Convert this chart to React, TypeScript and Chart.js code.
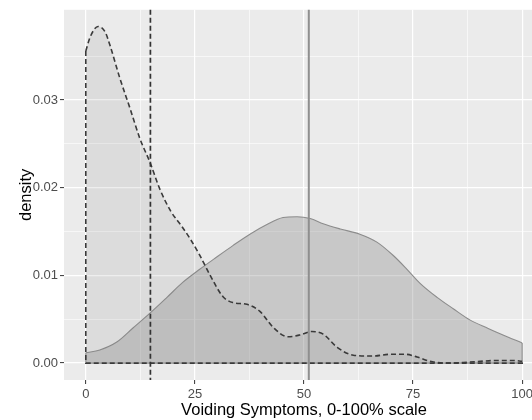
import React, { useEffect, useRef } from "react";
import { Chart, registerables } from "chart.js";

Chart.register(...registerables);

// Dashed group density (x, y)
const lowX = [0, 1, 2.8, 4.4, 5.5, 7.8, 10.1, 12.4, 14.7, 17, 19.5, 22, 24, 26, 28.4, 31.4, 33.7, 36.9, 39.9, 42.9, 46.3, 49, 51.8, 54.4, 57.6, 61.3, 65.8, 69.7, 73.2, 75.9, 78.9, 82.8, 87.4, 90.4, 94, 97.9, 100];
const lowY = [0.0356, 0.0372, 0.0384, 0.0378, 0.0363, 0.0325, 0.0291, 0.0256, 0.0229, 0.0198, 0.0173, 0.0156, 0.0141, 0.0124, 0.0101, 0.0076, 0.0069, 0.0067, 0.0059, 0.0041, 0.003, 0.0032, 0.0036, 0.0033, 0.0018, 0.0009, 0.0008, 0.001, 0.001, 0.0007, 0.0002, 0.0, 0.0001, 0.0002, 0.0003, 0.0003, 0.0002];

// Solid group density (x, y)
const highX = [0, 3.2, 7.1, 10.8, 14.7, 18.6, 22.2, 26.1, 30, 33.7, 37.6, 41.5, 45.2, 48.4, 51.4, 54.4, 58.3, 62.8, 66.7, 70.4, 73.6, 76.6, 80.5, 84.2, 88.1, 92, 95.6, 100];
const highY = [0.00117, 0.0015, 0.0024, 0.004, 0.0057, 0.0075, 0.0092, 0.0107, 0.0121, 0.0134, 0.0147, 0.0158, 0.0166, 0.0167, 0.0165, 0.0159, 0.0153, 0.0147, 0.0138, 0.0123, 0.0107, 0.0091, 0.0075, 0.0062, 0.0049, 0.004, 0.0032, 0.0023];

const meanLow = 14.8;
const meanHigh = 51.1;

const xTickValues = [0, 25, 50, 75, 100];
const xMinorValues = [12.5, 37.5, 62.5, 87.5];
const yTickValues = [0, 0.01, 0.02, 0.03];
const yMinorValues = [0.005, 0.015, 0.025, 0.035];

const xTitle = "Voiding Symptoms, 0-100% scale";
const yTitle = "density";

const FONT = "'Liberation Sans', Arial, Helvetica, sans-serif";

const isIn = (arr: number[], v: number) => arr.some((a) => Math.abs(a - v) < 1e-9);

const pts = (xs: number[], ys: number[]) => xs.map((x, i) => ({ x, y: ys[i] }));
const edges = (xs: number[], ys: number[]) => {
  const n = xs.length - 1;
  return [
    { x: xs[0], y: ys[0] },
    { x: xs[0], y: 0 },
    { x: xs[n], y: 0 },
    { x: xs[n], y: ys[n] },
  ];
};

const panelBg = {
  id: "panelBg",
  beforeDraw(chart: any) {
    const { ctx, chartArea } = chart;
    ctx.save();
    ctx.fillStyle = "#EBEBEB";
    ctx.fillRect(chartArea.left, chartArea.top, chartArea.right - chartArea.left, chartArea.bottom - chartArea.top);
    ctx.restore();
  },
};

const vLines = {
  id: "vLines",
  afterDatasetsDraw(chart: any) {
    const { ctx, chartArea, scales } = chart;
    const draw = (v: number, color: string, width: number, dash: number[]) => {
      const x = scales.x.getPixelForValue(v);
      ctx.save();
      ctx.strokeStyle = color;
      ctx.lineWidth = width;
      ctx.setLineDash(dash);
      ctx.beginPath();
      ctx.moveTo(x, chartArea.top);
      ctx.lineTo(x, chartArea.bottom);
      ctx.stroke();
      ctx.restore();
    };
    draw(meanHigh, "#8f8f8f", 2, []);
    draw(meanLow, "#333333", 1.7, [5, 3]);
  },
};

export default function App() {
  const ref = useRef<HTMLCanvasElement | null>(null);

  useEffect(() => {
    if (!ref.current) return;
    const chart = new Chart(ref.current, {
      type: "line",
      data: {
        datasets: [
          {
            data: pts(lowX, lowY),
            borderColor: "#3a3a3a",
            borderWidth: 1.6,
            borderDash: [5, 3],
            backgroundColor: "rgba(120,120,120,0.13)",
            fill: "origin",
            pointRadius: 0,
            cubicInterpolationMode: "monotone",
          },
          {
            data: edges(lowX, lowY),
            borderColor: "#3a3a3a",
            borderWidth: 1.6,
            borderDash: [5, 3],
            fill: false,
            pointRadius: 0,
            tension: 0,
          },
          {
            data: pts(highX, highY),
            borderColor: "#8c8c8c",
            borderWidth: 1.1,
            backgroundColor: "rgba(120,120,120,0.30)",
            fill: "origin",
            pointRadius: 0,
            cubicInterpolationMode: "monotone",
          },
          {
            data: edges(highX, highY),
            borderColor: "#8c8c8c",
            borderWidth: 1.1,
            fill: false,
            pointRadius: 0,
            tension: 0,
          },
        ],
      },
      options: {
        animation: false,
        responsive: false,
        devicePixelRatio: 1,
        layout: { padding: { left: 0, top: 8, right: 16, bottom: 0 } },
        plugins: { legend: { display: false }, tooltip: { enabled: false } },
        scales: {
          x: {
            type: "linear",
            min: -5,
            max: 105,
            afterBuildTicks: (s: any) => {
              s.ticks = [...xTickValues, ...xMinorValues].sort((a, b) => a - b).map((v) => ({ value: v }));
            },
            afterFit: (s: any) => {
              s.height = 40;
            },
            border: { display: false },
            grid: {
              color: "#FFFFFF",
              lineWidth: (c: any) => (isIn(xTickValues, c.tick?.value) ? 1.2 : 0.6),
              tickColor: (c: any) => (isIn(xTickValues, c.tick?.value) ? "#333333" : "rgba(0,0,0,0)"),
              tickLength: 4,
              tickWidth: 1,
            },
            ticks: {
              autoSkip: false,
              maxRotation: 0,
              padding: 3,
              color: "#4D4D4D",
              font: { family: FONT, size: 13 },
              callback: (v: any) => (isIn(xTickValues, Number(v)) ? String(v) : ""),
            },
            title: {
              display: true,
              text: xTitle,
              color: "#000000",
              font: { family: FONT, size: 16.5 },
              padding: { top: 0, bottom: 0 },
            },
          },
          y: {
            type: "linear",
            min: -0.00193,
            max: 0.0403,
            afterBuildTicks: (s: any) => {
              s.ticks = [...yTickValues, ...yMinorValues].sort((a, b) => a - b).map((v) => ({ value: v }));
            },
            afterFit: (s: any) => {
              s.width = 64;
            },
            border: { display: false },
            grid: {
              color: "#FFFFFF",
              lineWidth: (c: any) => (isIn(yTickValues, c.tick?.value) ? 1.2 : 0.6),
              tickColor: (c: any) => (isIn(yTickValues, c.tick?.value) ? "#333333" : "rgba(0,0,0,0)"),
              tickLength: 4,
              tickWidth: 1,
            },
            ticks: {
              autoSkip: false,
              padding: 2,
              color: "#4D4D4D",
              font: { family: FONT, size: 13 },
              callback: (v: any) => (isIn(yTickValues, Number(v)) ? Number(v).toFixed(2) : ""),
            },
            title: {
              display: true,
              text: yTitle,
              color: "#000000",
              font: { family: FONT, size: 16.5 },
              padding: { top: 17, bottom: 0 },
            },
          },
        },
      },
      plugins: [panelBg, vLines],
    } as any);
    return () => chart.destroy();
  }, []);

  return (
    <div style={{ position: "fixed", left: 0, top: 0, width: 532, height: 420, overflow: "hidden", background: "#FFFFFF" }}>
      <canvas ref={ref} width={560} height={420} style={{ display: "block" }} />
    </div>
  );
}
